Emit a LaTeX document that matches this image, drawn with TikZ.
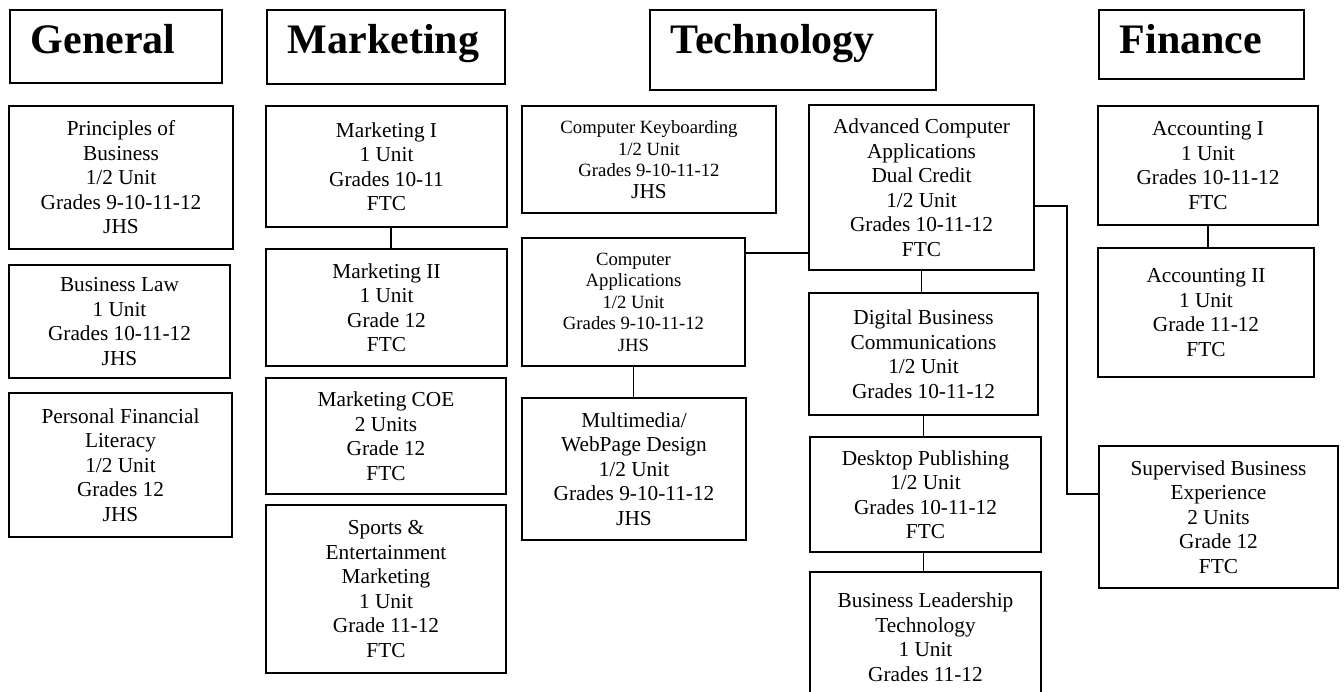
\documentclass[tikz,border=0pt]{standalone}
\usepackage{fontspec}
\setmainfont{Liberation Serif}
\begin{document}
\begin{tikzpicture}[x=1pt,y=-1pt,
  hdr/.style={draw, line width=1.6pt, font=\fontsize{42}{48}\selectfont\bfseries,
    inner ysep=0pt, inner xsep=21pt, text height=43.5pt, anchor=north west, align=left},
  cbox/.style={draw, line width=1.6pt, inner sep=0pt, align=center,
    font=\fontsize{21.3}{24.5}\selectfont},
  sbox/.style={cbox, font=\fontsize{18.7}{21.5}\selectfont},
  conn/.style={line width=1.6pt}]
\path[fill=white] (0,0) rectangle (1344,691);
\useasboundingbox (0,0) rectangle (1344,691);

% headers
\node[hdr, text width=170pt, text depth=29.5pt] (gen) at (9,9) {General};
\node[hdr, text width=196pt, text depth=30.5pt] (mkt) at (266,9) {Marketing};
\node[hdr, text width=244pt, text depth=36.5pt] (tech) at (649,9) {Technology};
\node[hdr, text width=163pt, text depth=25.5pt] (fin) at (1098,9) {Finance};

% General
\node[cbox, minimum width=224pt, minimum height=143pt] (pob) at (121,177.5)
  {Principles of\\Business\\1/2 Unit\\Grades 9-10-11-12\\JHS};
\node[cbox, minimum width=221pt, minimum height=113pt] (blaw) at (119.5,321.5)
  {Business Law\\1 Unit\\Grades 10-11-12\\JHS};
\node[cbox, minimum width=223pt, minimum height=144pt] (pfl) at (120.5,465)
  {Personal Financial\\Literacy\\1/2 Unit\\Grades 12\\JHS};

% Marketing
\node[cbox, minimum width=241pt, minimum height=121pt] (mk1) at (386.5,166.5)
  {Marketing I\\1 Unit\\Grades 10-11\\FTC};
\node[cbox, minimum width=241pt, minimum height=117pt] (mk2) at (386.5,307.5)
  {Marketing II\\1 Unit\\Grade 12\\FTC};
\node[cbox, minimum width=240pt, minimum height=116pt] (coe) at (386,436)
  {Marketing COE\\2 Units\\Grade 12\\FTC};
\node[cbox, minimum width=240pt, minimum height=168pt] (sem) at (386,589)
  {Sports \&\\Entertainment\\Marketing\\1 Unit\\Grade 11-12\\FTC};

% Technology
\node[sbox, minimum width=254pt, minimum height=107pt] (kb) at (649,159.5)
  {Computer Keyboarding\\1/2 Unit\\Grades 9-10-11-12\\{\fontsize{21.3}{22}\selectfont JHS}};
\node[sbox, minimum width=223pt, minimum height=128pt] (ca) at (633.5,302)
  {Computer\\Applications\\1/2 Unit\\Grades 9-10-11-12\\JHS};
\node[cbox, minimum width=224pt, minimum height=142pt] (mm) at (634,469)
  {Multimedia/\\WebPage Design\\1/2 Unit\\Grades 9-10-11-12\\JHS};
\node[cbox, minimum width=225pt, minimum height=165pt] (adv) at (921.5,187.5)
  {Advanced Computer\\Applications\\Dual Credit\\1/2 Unit\\Grades 10-11-12\\FTC};
\node[cbox, minimum width=229pt, minimum height=122pt] (dig) at (923.5,354)
  {Digital Business\\Communications\\1/2 Unit\\Grades 10-11-12};
\node[cbox, minimum width=231pt, minimum height=115pt] (dtp) at (925.5,494.5)
  {Desktop Publishing\\1/2 Unit\\Grades 10-11-12\\FTC};
\node[cbox, minimum width=231pt, minimum height=130pt] (blt) at (925.5,637)
  {Business Leadership\\Technology\\1 Unit\\Grades 11-12};

% Finance
\node[cbox, minimum width=220pt, minimum height=119pt] (acc1) at (1208,165.5)
  {Accounting I\\1 Unit\\Grades 10-11-12\\FTC};
\node[cbox, minimum width=216pt, minimum height=129pt] (acc2) at (1206,312.5)
  {Accounting II\\1 Unit\\Grade 11-12\\FTC};
\node[cbox, minimum width=239pt, minimum height=142pt] (sbe) at (1218.5,517)
  {Supervised Business\\Experience\\2 Units\\Grade 12\\FTC};

% connectors
\draw[conn] ([xshift=4.5pt]mk1.south) -- ([xshift=4.5pt]mk2.north);
\draw[conn] (ca.south) -- (ca.south |- mm.north);
\draw[conn] ([yshift=49pt]ca.east) -- ([yshift=49pt]ca.east -| adv.west);
\draw[conn] (adv.south) -- (adv.south |- dig.north);
\draw[conn] (dig.south) -- (dig.south |- dtp.north);
\draw[conn] ([xshift=-2pt]dtp.south) -- ([xshift=-2pt]dtp.south |- blt.north);
\draw[conn] (acc1.south) -- (acc1.south |- acc2.north);
\draw[conn] ([yshift=-18.5pt]adv.east) -- ++(32,0) |- ([yshift=23pt]sbe.west);
\end{tikzpicture}
\end{document}
